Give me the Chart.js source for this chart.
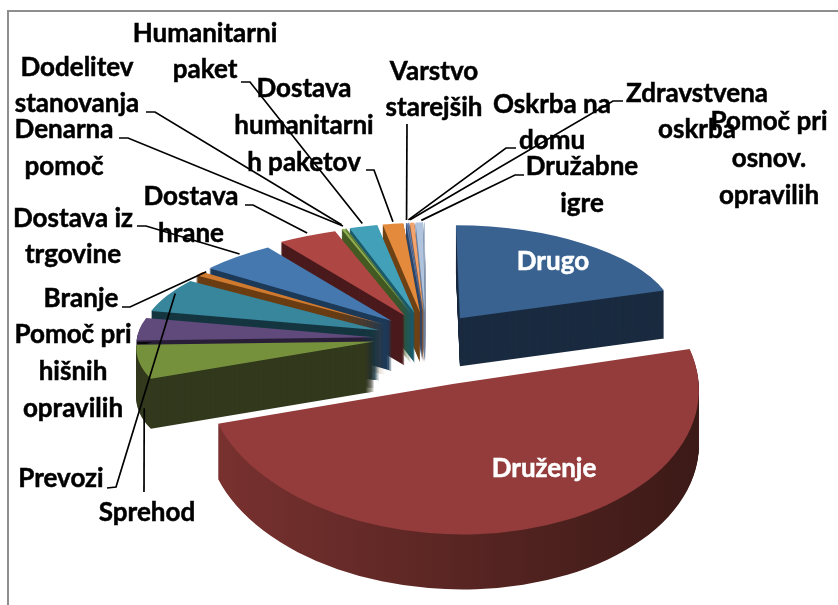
<!DOCTYPE html>
<html>
<head>
<meta charset="utf-8">
<style>
  html, body { margin: 0; padding: 0; background: #fff; overflow: hidden; }
  #wrap { position: relative; width: 838px; height: 605px; }
  #frame { position: absolute; left: 7px; top: 10px; right: 0; bottom: 0; border-left: 2px solid #8e8e8e; border-top: 2px solid #8e8e8e; }
  canvas { position: absolute; left: 0; top: 0; }
</style>
<script src="https://cdn.jsdelivr.net/npm/chart.js@4"></script>
</head>
<body>
<div id="wrap"><div id="frame"></div><canvas id="pita" width="838" height="605"></canvas></div>
<script>
// values, in percent, clockwise from 12 o'clock
const categories = ['Drugo', 'Druženje', 'Sprehod', 'Pomoč pri hišnih opravilih', 'Prevozi', 'Branje',
    'Dostava iz trgovine', 'Dostava hrane', 'Denarna pomoč', 'Dodelitev stanovanja', 'Humanitarni paket',
    'Dostava humanitarnih paketov', 'Varstvo starejših', 'Oskrba na domu', 'Zdravstvena oskrba',
    'Družabne igre', 'Pomoč pri osnov. opravilih'];
const values = [20, 49.5, 6.2, 4, 5.8, 0.7, 5.2, 4, 0.2, 0.1, 1.9, 1.4, 0.1, 0.1, 0.3, 0.5, 0.05];

const faceColors = ['#3a6290', '#943c3b', '#76913c', '#604a7b', '#37869c', '#d07a2f', '#4678b0', '#ae4644',
    '#8fae52', '#6a8a3a', '#42a0b8', '#e48a3c', '#5a7aa8', '#6a7fa8', '#f2a46e', '#b0c4de', '#c8d4e8'];
const wallColors = ['#1a2b40', '#5e2320', '#32391d', '#2a1f38', '#153640', '#6b3d12', '#1d3a58', '#4a1a1c',
    '#445a22', '#3a4a1c', '#1a5a6a', '#6e4215', '#2e4566', '#34466a', '#8a5b35', '#6e82a0', '#8090a8'];
const druzenjeWall = ['#7a3230', '#3c1a17'];

// pulled-out distance of each slice, as a share of the radius
const explode = [0.25, 0.35, 0.22, 0.22, 0.22, 0.22, 0.22, 0.22, 0.22, 0.22, 0.22, 0.22, 0.22, 0.22, 0.22, 0.22, 0.22];
// near slices sit a few px lower on the page (stands in for the perspective)
const sink = [0, 0, 5, 7, 6, 4, 3, 1, 0, 0, 0, 0, 0, 0, 0, 0, 0];

// the tilted view of the pie: where the centre lands and where "right" and "up" point
const backView = { x: 426, y: 332, right: [238, -7], up: [-1, -90], depth: 50 };
const drugoView = { x: 429, y: 337, right: [216, 1], up: [-4, -93], depth: 48 };
const druzenjeView = { x: 428, y: 333, right: [246, 12], up: [10, -150], depth: 55 };

function viewOf(i) {
    if (i === 0) return drugoView;
    if (i === 1) return druzenjeView;
    return backView;
}

// text blocks: centre x, first baseline, line height
const labelLines = [
    null, null,
    ['Sprehod'], ['Pomoč pri', 'hišnih', 'opravilih'], ['Prevozi'], ['Branje'],
    ['Dostava iz', 'trgovine'], ['Dostava', 'hrane'], ['Denarna', 'pomoč'], ['Dodelitev', 'stanovanja'],
    ['Humanitarni', 'paket'], ['Dostava', 'humanitarni', 'h paketov'], ['Varstvo', 'starejših'],
    ['Oskrba na', 'domu'], ['Zdravstvena', 'oskrba'], ['Družabne', 'igre'], ['Pomoč pri', 'osnov.', 'opravilih']
];
const labelPlace = [
    null, null,
    [147, 521, 36], [73, 343, 37], [61, 487, 36], [81, 307, 36],
    [73, 227, 36], [191, 205, 37], [64, 138, 37], [77, 76, 36],
    [205, 42, 36], [304, 97, 37], [434, 80, 36],
    [552, 113, 36], [697, 102, 36], [582, 175, 37], [769, 130, 37]
];
// leader lines: start next to the text, knee, then a nudge off the slice's outer mid point
const leaderStart = [
    null, null,
    [144, 492, 144, 492], [137, 343, 146, 343], [107, 488, 116, 487], [122, 307, 130, 307],
    [137, 226, 146, 226], [245, 205, 253, 205], [119, 138, 128, 138], [146, 112, 155, 112],
    [241, 82, 250, 82], [366, 170, 374, 170], [407, 124, 407, 124],
    [516, 148, 506, 148], [623, 101, 613, 101], [524, 175, 515, 175], null
];
const leaderNudge = [
    null, null,
    [5, 46], [6, 14], [8, -2], [7, -2], [3, -3], [0, -3], [0, -3], [-4, -4],
    [-1, -3], [0, -2], [0, -3], [0, -3], [-2, -3], [2, -2], null
];

const LABEL_FONT = 'bold 26px Lato';

function enterView(ctx, el, i, drop) {
    const v = viewOf(i);
    const R = el.outerRadius;
    const mid = (el.startAngle + el.endAngle) / 2;
    ctx.translate(v.x, v.y + sink[i] + drop);
    ctx.transform(v.right[0] / R, v.right[1] / R, -v.up[0] / R, -v.up[1] / R, 0, 0);
    ctx.translate(Math.cos(mid) * explode[i] * R - el.x, Math.sin(mid) * explode[i] * R - el.y);
}

function outerPoint(el, i) {
    const v = viewOf(i);
    const mid = (el.startAngle + el.endAngle) / 2;
    const k = 1 + explode[i];
    const r = Math.cos(mid) * k;
    const u = -Math.sin(mid) * k;
    return [v.x + v.right[0] * r + v.up[0] * u, v.y + sink[i] + v.right[1] * r + v.up[1] * u];
}

function writeText(ctx, t, x, y) {
    ctx.strokeText(t, x, y);
    ctx.fillText(t, x, y);
}

const pie3d = {
    id: 'pie3d',
    beforeDatasetsDraw(chart) {
        const ctx = chart.ctx;
        const arcs = chart.getDatasetMeta(0).data;
        // back slices last-to-first so each wall covers the one behind it, then the big ones
        const order = [];
        for (let i = arcs.length - 1; i >= 2; i--) order.push(i);
        order.push(0, 1);
        order.forEach(function (i) {
            const el = arcs[i];
            const base = el.options;
            const depth = viewOf(i).depth;
            let wall = wallColors[i];
            if (i === 1) {
                wall = ctx.createLinearGradient(el.x - el.outerRadius, 0, el.x + el.outerRadius, 0);
                wall.addColorStop(0, druzenjeWall[0]);
                wall.addColorStop(1, druzenjeWall[1]);
            }
            el.options = Object.assign({}, base, { backgroundColor: wall });
            for (let d = depth; d >= 1; d--) {
                ctx.save();
                enterView(ctx, el, i, d);
                el.draw(ctx);
                ctx.restore();
            }
            el.options = base;
            ctx.save();
            enterView(ctx, el, i, 0);
            el.draw(ctx);
            ctx.restore();
        });
        return false;
    },
    afterDraw(chart) {
        const ctx = chart.ctx;
        const arcs = chart.getDatasetMeta(0).data;
        ctx.save();
        ctx.strokeStyle = '#000';
        ctx.lineWidth = 1.7;
        leaderStart.forEach(function (s, i) {
            if (!s) return;
            const p = outerPoint(arcs[i], i);
            ctx.beginPath();
            ctx.moveTo(s[0], s[1]);
            ctx.lineTo(s[2], s[3]);
            ctx.lineTo(p[0] + leaderNudge[i][0], p[1] + leaderNudge[i][1]);
            ctx.stroke();
        });
        ctx.font = LABEL_FONT;
        ctx.textAlign = 'center';
        ctx.textBaseline = 'alphabetic';
        ctx.fillStyle = '#000';
        ctx.lineWidth = 0.5;
        labelLines.forEach(function (lines, i) {
            if (!lines) return;
            const place = labelPlace[i];
            lines.forEach(function (t, n) {
                writeText(ctx, t, place[0], place[1] + n * place[2]);
            });
        });
        ctx.fillStyle = '#fff';
        ctx.strokeStyle = '#fff';
        writeText(ctx, categories[0], 553, 270);
        writeText(ctx, categories[1], 544, 477);
        ctx.restore();
    }
};

new Chart(document.getElementById('pita').getContext('2d'), {
    type: 'pie',
    data: {
        labels: categories,
        datasets: [{ data: values, backgroundColor: faceColors, borderWidth: 0 }]
    },
    options: {
        responsive: false,
        animation: false,
        plugins: { legend: { display: false }, tooltip: { enabled: false } }
    },
    plugins: [pie3d]
});
</script>
</body>
</html>
